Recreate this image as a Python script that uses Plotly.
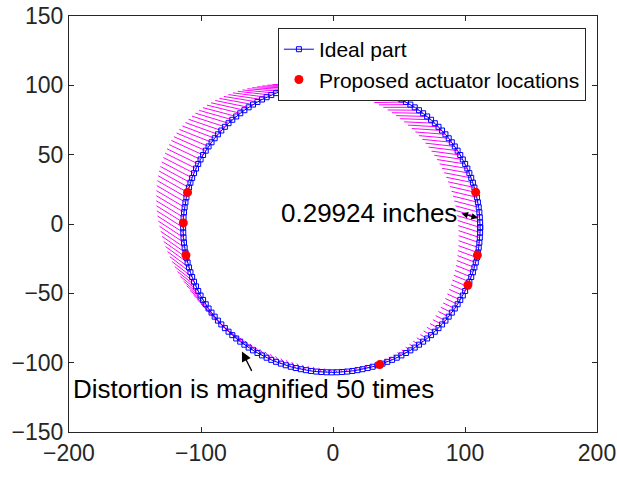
import numpy as np
import plotly.graph_objects as go

# ---- data ----
ideal_center = (-1.0, -2.5)      # centre of the ideal part
ideal_radii = (112.5, 104.5)     # half-width, half-height
n_ideal = 180                    # points along the ideal part

# magnified (x50) distortion vectors, sampled every 15 degrees around the part
disp_angles = list(range(0, 360, 15))
disp_dx = [-17.0, -19.8, -21.8, -23.2, -24.0, -24.6, -25.0, -25.4, -25.5, -25.0, -24.0, -22.5,
           -20.0, -16.5, -12.4, -8.8, -5.8, -3.2, -1.5, -1.4, -3.2, -6.2, -9.8, -13.6]
disp_dy = [5.0, 4.2, 2.8, 1.1, -0.4, -1.2, -1.0, 0.8, 4.0, 7.5, 10.5, 12.0,
           12.0, 11.5, 10.2, 8.4, 6.6, 4.5, 2.5, 1.7, 2.2, 3.2, 4.3, 5.0]

act_x = [-110.2, -113.4, -111.4, 108.1, 109.4, 102.2, 35.4]
act_y = [22.8, 0.8, -22.4, 22.9, -22.4, -44.0, -101.4]

x_ticks = [-200, -100, 0, 100, 200]
y_ticks = [-150, -100, -50, 0, 50, 100, 150]

# ---- build geometry ----
theta = np.linspace(0, 360, n_ideal + 1)
ix = ideal_center[0] + ideal_radii[0] * np.cos(np.radians(theta))
iy = ideal_center[1] + ideal_radii[1] * np.sin(np.radians(theta))
dx = np.interp(theta, disp_angles, disp_dx, period=360)
dy = np.interp(theta, disp_angles, disp_dy, period=360)

lx, ly = [], []
for k in range(n_ideal):
    lx += [ix[k], ix[k] + dx[k], None]
    ly += [iy[k], iy[k] + dy[k], None]

FONT = "Liberation Sans, Arial, Helvetica, sans-serif"
AX = "#262626"

fig = go.Figure()
fig.add_trace(go.Scatter(x=lx, y=ly, mode="lines", line=dict(color="#FF00FF", width=1),
                         showlegend=False, hoverinfo="skip"))
fig.add_trace(go.Scatter(x=ix, y=iy, mode="lines+markers", name="Ideal part",
                         line=dict(color="blue", width=1),
                         marker=dict(symbol="square-open", size=5, color="blue",
                                     line=dict(width=1, color="blue"))))
fig.add_trace(go.Scatter(x=act_x, y=act_y, mode="markers", name="Proposed actuator locations",
                         marker=dict(symbol="circle", size=9, color="red")))

fig.add_annotation(x=-69, y=-92, ax=-61, ay=-107, xref="x", yref="y", axref="x", ayref="y",
                   text="", showarrow=True, arrowhead=2, arrowsize=1.5, arrowwidth=1.3,
                   arrowcolor="black")
fig.add_annotation(x=-60, y=-119, xref="x", yref="y", text="Distortion is magnified 50 times",
                   showarrow=False, font=dict(family=FONT, size=26, color="black"))
fig.add_annotation(x=27.3, y=7.9, xref="x", yref="y", text="0.29924 inches",
                   showarrow=False, font=dict(family=FONT, size=26, color="black"))
fig.add_annotation(x=109.8, y=4.3, ax=96.2, ay=7.9, xref="x", yref="y", axref="x", ayref="y",
                   text="", showarrow=True, arrowhead=2, startarrowhead=2, arrowside="end+start",
                   arrowsize=1.0, startarrowsize=1.0, arrowwidth=1.3, arrowcolor="black")

axis_common = dict(showgrid=False, zeroline=False, showline=True, linecolor=AX, linewidth=1,
                   mirror="ticks", ticks="inside", ticklen=5, tickcolor=AX, automargin=False,
                   ticklabeloverflow="allow",
                   tickfont=dict(family=FONT, size=23, color=AX))
fig.update_xaxes(range=[-200, 200], tickvals=x_ticks, **axis_common)
fig.update_yaxes(range=[-150, 150], tickvals=y_ticks, **axis_common)

fig.update_layout(
    width=617, height=477,
    margin=dict(l=69, r=20, t=16, b=45),
    paper_bgcolor="white", plot_bgcolor="white",
    font=dict(family=FONT, color=AX),
    legend=dict(x=0.979, y=0.971, xanchor="right", yanchor="top",
                bgcolor="white", bordercolor=AX, borderwidth=1,
                font=dict(family=FONT, size=21, color="black"), tracegroupgap=0),
)

fig.write_html("out.html", config={"displayModeBar": False},
               post_script="document.body.style.margin='0';")
